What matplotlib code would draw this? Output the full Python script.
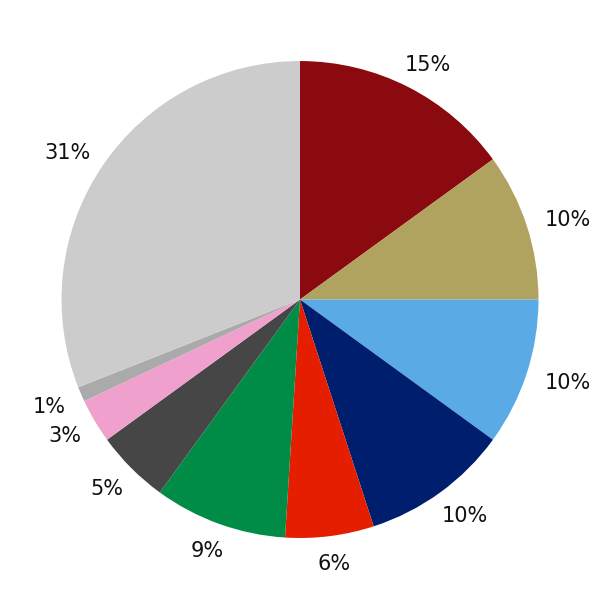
import matplotlib
matplotlib.use("Agg")
import matplotlib.pyplot as plt
import numpy as np

values = [15, 10, 10, 10, 6, 9, 5, 3, 1, 31]
labels = ["15%", "10%", "10%", "10%", "6%", "9%", "5%", "3%", "1%", "31%"]
colors = ["#8B0A10", "#AFA35F", "#5AAAE6", "#001E6E", "#E61E00",
          "#008C46", "#464646", "#F0A0CD", "#AAAAAA", "#CCCCCC"]

fig = plt.figure(figsize=(6, 6), dpi=100)
ax = fig.add_axes([0, 0, 1, 1])
wedges, _ = ax.pie(values, colors=colors, startangle=90, counterclock=False,
                   wedgeprops=dict(linewidth=0))
ax.set_xlim(-1.258, 1.258)
ax.set_ylim(-1.260, 1.256)
ax.set_aspect("equal")
ax.axis("off")

fig.canvas.draw()
renderer = fig.canvas.get_renderer()
px = 600 / 2.516  # pixels per data unit (pie radius)
ry = 265.0 / px
yshift = -2.0 / px
for w, lab in zip(wedges, labels):
    ang = np.deg2rad((w.theta1 + w.theta2) / 2)
    t = ax.text(0, 0, lab, fontsize=15, ha="center", va="center", color="#111111")
    hw = t.get_window_extent(renderer).width / 2
    rx = (px + 15 + 1.2 * hw) / px
    t.set_position((rx * np.cos(ang), ry * np.sin(ang) + yshift))

fig.savefig("out.png", dpi=100)
